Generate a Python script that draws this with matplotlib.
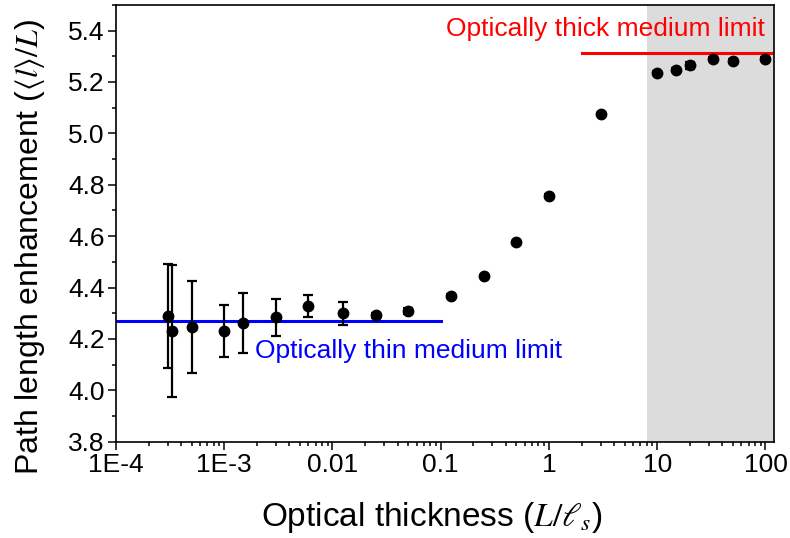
import numpy as np
import matplotlib
matplotlib.use("Agg")
import matplotlib.pyplot as plt

plt.rcParams["font.family"] = ["Liberation Sans", "DejaVu Sans"]
plt.rcParams["mathtext.fontset"] = "stix"

# optical thickness L/ls and path length enhancement <l>/L
thickness = [3e-4, 3.3e-4, 5e-4, 1e-3, 1.5e-3, 3e-3, 6e-3, 0.0125, 0.025, 0.05,
             0.125, 0.25, 0.5, 1.0, 3.0, 10, 15, 20, 33, 50, 100]
enhancement = [4.289, 4.231, 4.248, 4.232, 4.263, 4.284, 4.328, 4.300, 4.292, 4.309,
               4.368, 4.445, 4.576, 4.758, 5.076, 5.236, 5.247, 5.264, 5.291, 5.283, 5.291]
error = [0.202, 0.258, 0.179, 0.101, 0.116, 0.073, 0.043, 0.045, 0.010, 0.012,
         0.005, 0.005, 0.005, 0.005, 0.005, 0.005, 0.006, 0.012, 0.006, 0.008, 0.006]

thin_limit = 4.269
thin_range = [1e-4, 0.1]
thick_limit = 5.312
thick_range = [2.0, 120]
shade_range = [8, 120]

xticks = [1e-4, 1e-3, 0.01, 0.1, 1, 10, 100]
xticklabels = ["1E-4", "1E-3", "0.01", "0.1", "1", "10", "100"]
yticks = [3.8, 4.0, 4.2, 4.4, 4.6, 4.8, 5.0, 5.2, 5.4]

fig = plt.figure(figsize=(7.9, 5.38), dpi=100)
ax = fig.add_axes([0.1468, 0.179, 0.833, 0.812])

ax.axvspan(shade_range[0], shade_range[1], color="#dcdcdc", lw=0, zorder=0)
ax.plot(thin_range, [thin_limit, thin_limit], color="#0000ff", lw=2.2, zorder=2)
ax.plot(thick_range, [thick_limit, thick_limit], color="#ff0000", lw=2.2, zorder=2)

ax.errorbar(thickness, enhancement, yerr=error, fmt="o", color="black",
            markersize=7.5, elinewidth=1.6, capsize=3.6, capthick=1.6, zorder=3)

ax.text(0.211, 0.191, "Optically thin medium limit", color="#0000ff",
        fontsize=19, transform=ax.transAxes, va="baseline", ha="left")
ax.text(0.986, 0.929, "Optically thick medium limit", color="#ff0000",
        fontsize=19, transform=ax.transAxes, va="baseline", ha="right")

ax.set_xscale("log")
ax.set_xlim(1e-4, 120)
ax.set_ylim(3.8, 5.5)
ax.set_xticks(xticks)
ax.set_xticklabels(xticklabels)
ax.set_yticks(yticks)
ax.set_yticklabels([f"{v:.1f}" for v in yticks])
ax.yaxis.set_minor_locator(matplotlib.ticker.MultipleLocator(0.1))
ax.xaxis.set_minor_locator(matplotlib.ticker.LogLocator(base=10, subs=np.arange(2, 10)))
ax.xaxis.set_minor_formatter(matplotlib.ticker.NullFormatter())

ax.tick_params(which="major", direction="out", length=6, width=1.1,
               labelsize=19, pad=2)
ax.tick_params(which="minor", direction="out", length=3, width=1.1)
for s in ax.spines.values():
    s.set_linewidth(1.2)

fig.text(0.547, 0.039, r"Optical thickness ($L/\ell_s$)", fontsize=24,
         ha="center", va="center")
fig.text(0.038, 0.541, r"Path length enhancement ($\langle l\rangle/L$)", fontsize=23,
         ha="center", va="center", rotation=90)

fig.savefig("out.png", dpi=100)
